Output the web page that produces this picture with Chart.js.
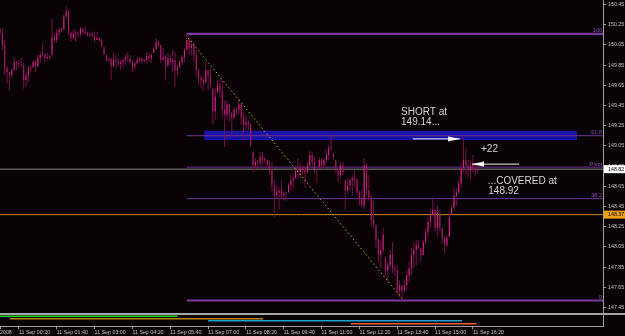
<!DOCTYPE html>
<html>
<head>
<meta charset="utf-8">
<script src="https://cdn.jsdelivr.net/npm/chart.js@4.4.0/dist/chart.umd.min.js"></script>
<style>
html, body { margin: 0; padding: 0; background: #0a0306; }
canvas { display: block; }
</style>
</head>
<body>
<canvas id="priceChart" width="625" height="336"></canvas>
<script>
// ==================== DATA (USDJPY-style M5 bars, 11 Sep 2008) ====================
const opens = [
  150.20,150.17,150.05,149.82,149.78,149.75,149.80,149.88,149.87,149.86,
  149.85,149.70,149.75,149.82,149.83,149.88,149.84,149.92,149.95,149.95,
  149.92,149.93,149.95,150.12,150.10,150.17,150.20,150.20,150.33,150.38,
  150.17,150.12,150.16,150.17,150.16,150.21,150.18,150.17,150.15,150.16,
  150.14,150.10,150.12,150.10,150.03,149.95,149.90,149.91,149.84,149.90,
  149.88,149.86,149.88,149.90,149.93,149.92,149.88,149.84,149.87,149.90,
  149.91,149.89,149.90,149.94,149.92,149.97,150.01,150.08,150.05,149.90,
  149.93,149.85,149.92,149.88,149.90,149.80,149.83,149.88,149.93,150.00,
  150.10,150.02,150.05,149.95,149.80,149.72,149.70,149.68,149.80,149.75,
  149.62,149.39,149.58,149.65,149.60,149.41,149.36,149.46,149.38,149.33,
  149.41,149.41,149.46,149.33,149.26,149.29,149.26,148.99,148.86,148.89,
  148.88,148.94,148.91,148.91,148.86,148.81,148.66,148.56,148.59,148.61,
  148.56,148.58,148.59,148.66,148.71,148.73,148.81,148.79,148.83,148.81,
  148.79,148.86,148.96,148.89,148.81,148.84,148.91,148.86,148.91,148.96,
  149.03,148.98,148.91,148.81,148.76,148.86,148.71,148.61,148.66,148.71,
  148.73,148.71,148.59,148.53,148.46,148.86,148.61,148.53,148.32,148.27,
  148.12,147.97,148.02,147.95,147.82,147.87,147.97,147.84,147.82,147.62,
  147.67,147.62,147.67,147.77,147.84,147.97,148.02,148.07,148.04,147.97,
  148.10,148.20,148.30,148.37,148.42,148.24,148.37,148.24,148.14,148.07,
  148.15,148.37,148.44,148.56,148.59,148.68,148.83,148.91,148.86,148.81,
  148.86,148.83,148.81
];
const highs = [
  150.22,150.22,150.10,149.84,149.78,149.82,149.93,149.89,149.90,149.92,
  149.87,149.78,149.85,149.85,149.90,149.90,149.95,149.98,150.07,149.97,
  149.97,149.95,150.31,150.17,150.20,150.22,150.22,150.35,150.44,150.40,
  150.18,150.20,150.20,150.18,150.23,150.22,150.23,150.18,150.17,150.18,
  150.18,150.18,150.13,150.11,150.03,149.95,149.93,149.92,149.98,149.95,
  149.92,149.90,149.92,149.95,149.98,149.95,149.90,149.88,149.93,149.93,
  149.93,149.92,149.98,149.97,149.96,150.03,150.12,150.10,150.05,150.02,
  149.95,149.97,149.95,150.00,149.98,149.85,149.90,149.95,150.02,150.16,
  150.12,150.10,150.08,150.00,149.82,149.75,149.72,149.88,149.80,149.82,
  149.62,149.62,149.70,149.72,149.70,149.50,149.50,149.47,149.38,149.43,
  149.43,149.52,149.47,149.38,149.36,149.31,149.28,148.99,148.93,148.91,
  148.99,148.99,148.94,148.91,148.91,148.89,148.71,148.66,148.64,148.71,
  148.61,148.59,148.68,148.76,148.76,148.84,148.93,148.88,148.86,148.83,
  148.89,149.01,148.99,148.94,148.83,148.94,148.93,148.93,149.01,149.06,
  149.16,148.98,148.91,148.84,148.89,148.89,148.71,148.73,148.74,148.76,
  148.81,148.73,148.61,148.61,148.93,148.88,148.76,148.56,148.51,148.27,
  148.14,148.10,148.24,147.95,147.90,148.02,148.10,147.87,147.87,147.72,
  147.67,147.72,147.82,147.90,148.04,148.10,148.12,148.12,148.04,148.12,
  148.24,148.34,148.42,148.54,148.42,148.46,148.42,148.24,148.15,148.17,
  148.39,148.46,148.64,148.63,148.71,148.88,149.14,149.03,148.91,148.91,
  148.96,148.88,148.86
];
const lows = [
  150.15,150.00,149.75,149.67,149.60,149.72,149.80,149.80,149.83,149.83,
  149.62,149.63,149.68,149.78,149.83,149.78,149.83,149.87,149.93,149.88,
  149.90,149.90,149.95,150.08,150.07,150.13,150.17,150.20,150.32,150.15,
  150.08,150.10,150.08,150.12,150.13,150.15,150.15,150.13,150.13,150.12,
  150.08,150.10,150.08,150.03,149.95,149.88,149.88,149.70,149.83,149.82,
  149.83,149.80,149.82,149.85,149.88,149.86,149.78,149.80,149.87,149.88,
  149.87,149.87,149.87,149.88,149.87,149.97,150.00,150.03,149.87,149.90,
  149.70,149.83,149.85,149.78,149.63,149.73,149.83,149.85,149.88,150.00,
  149.95,149.95,149.88,149.73,149.65,149.62,149.60,149.67,149.60,149.62,
  149.26,149.31,149.58,149.53,149.34,149.04,149.31,149.29,149.14,149.31,
  149.36,149.36,149.26,149.11,149.21,149.21,149.04,148.79,148.81,148.83,
  148.81,148.86,148.88,148.83,148.76,148.59,148.35,148.53,148.42,148.53,
  148.51,148.51,148.59,148.61,148.63,148.73,148.73,148.74,148.76,148.64,
  148.78,148.84,148.84,148.79,148.69,148.84,148.83,148.81,148.88,148.91,
  149.01,148.91,148.78,148.69,148.73,148.76,148.42,148.58,148.61,148.56,
  148.64,148.56,148.46,148.44,148.42,148.56,148.51,148.25,148.24,148.04,
  147.90,147.84,147.99,147.77,147.70,147.84,147.79,147.77,147.57,147.55,
  147.52,147.60,147.62,147.70,147.77,147.84,147.87,148.02,147.90,147.97,
  148.07,148.14,148.24,148.35,148.19,148.15,148.20,148.09,147.99,148.05,
  148.15,148.37,148.42,148.46,148.58,148.63,148.79,148.76,148.74,148.71,
  148.79,148.76,148.78
];
const closes = [
  150.17,150.05,149.82,149.78,149.75,149.80,149.88,149.87,149.86,149.85,
  149.70,149.75,149.82,149.83,149.88,149.84,149.92,149.95,149.95,149.92,
  149.93,149.94,150.12,150.10,150.17,150.20,150.20,150.33,150.38,150.17,
  150.12,150.16,150.17,150.16,150.21,150.18,150.17,150.15,150.16,150.14,
  150.10,150.12,150.10,150.04,149.96,149.90,149.91,149.84,149.90,149.88,
  149.86,149.88,149.90,149.93,149.92,149.88,149.84,149.87,149.90,149.91,
  149.89,149.90,149.94,149.92,149.95,150.01,150.08,150.05,149.90,149.93,
  149.85,149.92,149.88,149.90,149.80,149.83,149.88,149.93,150.00,150.10,
  150.02,150.05,149.95,149.80,149.72,149.70,149.68,149.80,149.75,149.65,
  149.39,149.54,149.65,149.60,149.41,149.36,149.46,149.38,149.33,149.41,
  149.41,149.46,149.33,149.26,149.29,149.26,149.06,148.86,148.89,148.88,
  148.94,148.91,148.91,148.86,148.81,148.66,148.56,148.59,148.61,148.56,
  148.58,148.58,148.66,148.71,148.73,148.81,148.79,148.83,148.81,148.79,
  148.86,148.96,148.89,148.81,148.81,148.91,148.86,148.91,148.96,149.03,
  149.03,148.94,148.81,148.76,148.86,148.79,148.61,148.66,148.71,148.73,
  148.71,148.59,148.53,148.46,148.86,148.61,148.53,148.32,148.27,148.12,
  147.97,148.02,148.17,147.82,147.87,147.97,147.84,147.82,147.62,147.67,
  147.62,147.67,147.77,147.84,147.97,148.02,148.07,148.04,147.97,148.10,
  148.20,148.30,148.37,148.42,148.24,148.37,148.24,148.14,148.07,148.14,
  148.34,148.44,148.56,148.59,148.68,148.83,148.91,148.86,148.81,148.86,
  148.83,148.81,148.82
];

// time axis: bar index of each label
const tickBars = [0, 8, 24, 40, 56, 72, 88, 104, 120, 136, 152, 168, 184, 200];
const timeLabels = ['2008', '11 Sep 00:20', '11 Sep 01:40', '11 Sep 03:00', '11 Sep 04:20',
  '11 Sep 05:40', '11 Sep 07:00', '11 Sep 08:20', '11 Sep 09:40', '11 Sep 11:00',
  '11 Sep 12:20', '11 Sep 13:40', '11 Sep 15:00', '11 Sep 16:20'];
const priceTicks = [147.45, 147.65, 147.85, 148.05, 148.25, 148.45, 148.65, 148.85,
  149.05, 149.25, 149.45, 149.65, 149.85, 150.05, 150.25, 150.45];

// fibonacci retracement
const fibStartBar = 79;
const fibHigh = 150.16;
const fibLow = 147.52;
const fibLevels = [100, 61.8, 50, 38.2, 0];
const fibNames = ['100', '61.8', 'Pivot', '38.2', '0'];

// short entry zone
const zoneBars = [86.3, 244];
const zoneTop = 149.20;
const zoneBottom = 149.11;

// trend line high -> low
const trendBars = [79.5, 170];
const trendPrices = [150.12, 147.54];

// trade arrows
const shortArrowBars = [174.6, 194.5];
const shortArrowPrice = 149.12;
const coverArrowBars = [219.5, 199.6];
const coverArrowPrice = 148.87;

// price markers
const bidPrice = 148.82;
const linePrice = 148.37;

// notes
const noteText = ['SHORT at', '149.14...', '+22', '...COVERED at', '148.92'];
const noteBar = [169.6, 169.6, 203.4, 206.3, 206.5];
const notePrice = [149.361, 149.257, 148.99, 148.678, 148.579];

// lower pane indicator strips
const stripStart = [0, 4.2, 88, 148.4];
const stripEnd = [75.1, 111.3, 195.4, 201.5];
const stripLevel = [3.8, 2.9, 2.2, 1.1];
const stripColors = ['#22d82a', '#b8860f', '#1aa2d2', '#f0603a'];

// ==================== RENDERING ====================
const BG = '#0a0306';
const X_MAX = 255;
const FONT = '"Liberation Sans", Arial, sans-serif';

const fibPrice = lv => fibLow + (fibHigh - fibLow) * lv / 100;

function arrowHead() {
    const c = document.createElement('canvas');
    c.width = 24; c.height = 6;
    const g = c.getContext('2d');
    g.fillStyle = '#ffffff';
    g.beginPath();
    g.moveTo(0, 0.5); g.lineTo(12, 3); g.lineTo(0, 5.5);
    g.closePath(); g.fill();
    return c;
}
const head = arrowHead();

function hLine(x0, x1, price, color, width, order) {
    return {
        type: 'line',
        data: [{ x: x0, y: price }, { x: x1, y: price }],
        borderColor: color, borderWidth: width, pointRadius: 0, order: order
    };
}

const datasets = [
    hLine(0, X_MAX, bidPrice, '#858585', 1, 20),
    hLine(0, X_MAX, linePrice, '#c98a1f', 1, 20),
    {
        type: 'line',
        data: zoneBars.map(b => ({ x: b, y: zoneTop })),
        borderWidth: 0, pointRadius: 0, fill: '+1',
        backgroundColor: '#1c12a8', order: 15
    },
    {
        type: 'line',
        data: zoneBars.map(b => ({ x: b, y: zoneBottom })),
        borderWidth: 0, pointRadius: 0, fill: false, order: 15
    }
];

fibLevels.forEach(lv => {
    const thick = lv === 100 || lv === 0;
    datasets.push(hLine(fibStartBar, X_MAX, fibPrice(lv), thick ? '#7b3c9e' : '#6c3492', thick ? 2.2 : 1, 12));
});

datasets.push({
    type: 'bar',
    data: highs.map((h, i) => ({ x: i, y: [lows[i], h] })),
    backgroundColor: '#74124a',
    grouped: false, maxBarThickness: 1, borderWidth: 0, order: 8
});
datasets.push({
    type: 'bar',
    data: opens.map((o, i) => ({ x: i, y: [Math.min(o, closes[i]), Math.max(o, closes[i])] })),
    backgroundColor: ctx => closes[ctx.dataIndex] >= opens[ctx.dataIndex] ? '#e0218b' : '#b0196c',
    grouped: false, maxBarThickness: 1, minBarLength: 1, borderWidth: 0, order: 7
});

datasets.push({
    type: 'line',
    data: trendBars.map((b, i) => ({ x: b, y: trendPrices[i] })),
    borderColor: '#bdb22e', borderWidth: 1, borderDash: [1.5, 2.5], pointRadius: 0, order: 5
});

datasets.push({
    type: 'line',
    data: shortArrowBars.map(b => ({ x: b, y: shortArrowPrice })),
    borderColor: '#f0f0f0', borderWidth: 1,
    pointRadius: [0, 3], pointHoverRadius: 0, pointStyle: ['circle', head], pointRotation: 0, order: 3
});
datasets.push({
    type: 'line',
    data: coverArrowBars.map(b => ({ x: b, y: coverArrowPrice })),
    borderColor: '#f0f0f0', borderWidth: 1,
    pointRadius: [0, 3], pointHoverRadius: 0, pointStyle: ['circle', head], pointRotation: 180, order: 3
});

stripLevel.forEach((lv, i) => {
    datasets.push({
        type: 'line',
        yAxisID: 'y2',
        data: [{ x: stripStart[i], y: lv }, { x: stripEnd[i], y: lv }],
        borderColor: stripColors[i], borderWidth: 1.5, pointRadius: 0, order: 10
    });
});

const overlay = {
    id: 'overlay',
    beforeDraw(chart) {
        const c = chart.ctx;
        c.save();
        c.fillStyle = BG;
        c.fillRect(0, 0, chart.width, chart.height);
        c.restore();
    },
    afterDraw(chart) {
        const { ctx, chartArea } = chart;
        const x = chart.scales.x, y = chart.scales.y;
        ctx.save();

        // pane separator
        ctx.fillStyle = '#a6a6a6';
        ctx.fillRect(0, y.bottom, chart.width, 2);

        // fib level names
        ctx.font = '5.5px ' + FONT;
        ctx.fillStyle = '#8c4cba';
        ctx.textAlign = 'right';
        ctx.textBaseline = 'alphabetic';
        fibLevels.forEach((lv, i) => {
            ctx.fillText(fibNames[i], chartArea.right - 1, y.getPixelForValue(fibPrice(lv)) - 1.5);
        });

        // price boxes on the axis
        [[bidPrice, '#ffffff'], [linePrice, '#eea213']].forEach(([p, fillColor]) => {
            const py = y.getPixelForValue(p);
            ctx.fillStyle = fillColor;
            ctx.fillRect(y.left + 1, py - 4, chart.width - y.left - 1, 8);
            ctx.fillStyle = '#000000';
            ctx.font = '5.3px ' + FONT;
            ctx.textAlign = 'left';
            ctx.textBaseline = 'middle';
            ctx.fillText(p.toFixed(2), y.left + 5, py);
        });

        // trade notes
        ctx.font = '10px ' + FONT;
        ctx.fillStyle = '#d6d6d6';
        ctx.textAlign = 'left';
        ctx.textBaseline = 'alphabetic';
        noteText.forEach((t, i) => {
            ctx.fillText(t, x.getPixelForValue(noteBar[i]), y.getPixelForValue(notePrice[i]));
        });
        ctx.restore();
    }
};

new Chart(document.getElementById('priceChart').getContext('2d'), {
    type: 'bar',
    data: { datasets: datasets },
    plugins: [overlay],
    options: {
        responsive: false,
        animation: false,
        events: [],
        layout: { padding: 0, autoPadding: false },
        plugins: {
            legend: { display: false },
            tooltip: { enabled: false }
        },
        scales: {
            x: {
                type: 'linear',
                min: 0,
                max: X_MAX,
                offset: false,
                grid: { offset: false, drawOnChartArea: false, drawTicks: true, tickLength: 2.5, color: '#a0a0a0' },
                border: { color: '#a0a0a0' },
                ticks: {
                    align: 'start', padding: 0, maxRotation: 0, minRotation: 0, autoSkip: false,
                    color: '#c4c4c4', font: { family: FONT, size: 5.3 },
                    callback: (value, index) => timeLabels[index]
                },
                afterBuildTicks: s => { s.ticks = tickBars.map(v => ({ value: v })); },
                afterFit: s => { s.height = 9.3; s.paddingLeft = 0; s.paddingRight = 0; s.paddingTop = 0; s.paddingBottom = 0; }
            },
            y: {
                position: 'right',
                stack: 'panes',
                stackWeight: 313,
                min: 147.396,
                max: 150.495,
                grid: { drawOnChartArea: false, drawTicks: true, tickLength: 3, color: '#a0a0a0' },
                border: { color: '#a0a0a0' },
                ticks: {
                    padding: 2, color: '#c4c4c4', font: { family: FONT, size: 5.3 },
                    callback: v => v.toFixed(2)
                },
                afterBuildTicks: s => { s.ticks = priceTicks.map(v => ({ value: v })); },
                afterFit: s => { s.width = 22; s.paddingTop = 0; s.paddingBottom = 0; s.paddingLeft = 0; s.paddingRight = 0; }
            },
            y2: {
                position: 'right',
                stack: 'panes',
                stackWeight: 13.7,
                min: 0,
                max: 5,
                grid: { display: false },
                border: { color: '#a0a0a0' },
                ticks: { display: false },
                afterFit: s => { s.width = 22; s.paddingTop = 0; s.paddingBottom = 0; s.paddingLeft = 0; s.paddingRight = 0; }
            }
        }
    }
});
</script>
</body>
</html>
